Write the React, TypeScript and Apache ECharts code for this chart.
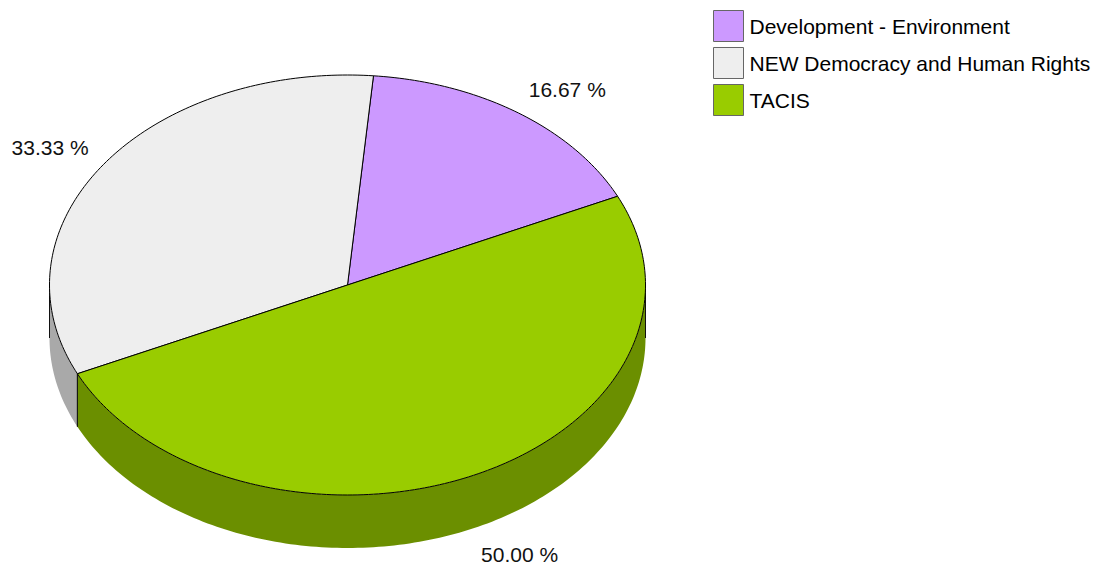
import React, { useEffect, useRef } from 'react';
import * as echarts from 'echarts';

const categories = ['Development - Environment', 'NEW Democracy and Human Rights', 'TACIS'];
const values = [1, 2, 3];
const colors = ['#CC99FF', '#EEEEEE', '#99CC00'];
const sideColors = ['#8F6BB3', '#A9A9A9', '#6B8F00'];
// clockwise drawing order of the slices (indices into categories)
const sliceOrder = [0, 2, 1];

const FONT = '"Liberation Sans", Arial, sans-serif';

export default function App() {
  const ref = useRef<HTMLDivElement>(null);
  useEffect(() => {
    document.body.style.margin = '0';
    const chart = echarts.init(ref.current!, null, { renderer: 'svg' });
    const total = values.reduce((a, b) => a + b, 0);
    const cx = 347.5, cy = 285, rx = 298, ry = 210, depth = 53, startDeg = 5;
    const rad = (d: number) => (d * Math.PI) / 180;
    const pt = (t: number, dy: number) => [cx + rx * Math.sin(rad(t)), cy - ry * Math.cos(rad(t)) + dy];
    const arc = (a: number, b: number, dy: number) => {
      const pts: number[][] = [];
      const n = Math.max(2, Math.ceil(Math.abs(b - a)));
      for (let k = 0; k <= n; k++) pts.push(pt(a + ((b - a) * k) / n, dy));
      return pts;
    };

    const series = categories.map((name, i) => {
      const pos = sliceOrder.indexOf(i);
      const before = sliceOrder.slice(0, pos).reduce((a, j) => a + values[j], 0);
      return {
        type: 'custom',
        name,
        coordinateSystem: 'none',
        silent: true,
        itemStyle: { color: colors[i] },
        data: [[values[i]]],
        renderItem: (params: any, api: any) => {
          const v = api.value(0);
          const t1 = startDeg + (before / total) * 360;
          const t2 = t1 + (v / total) * 360;
          const children: any[] = [];
          const fronts = [[90, 270], [450, 630]];
          fronts.forEach(([fa, fb]) => {
            const a = Math.max(t1, fa), b = Math.min(t2, fb);
            if (b > a) {
              const top = arc(a, b, 0);
              const bottom = arc(a, b, depth).reverse();
              children.push({
                type: 'polygon',
                shape: { points: top.concat(bottom) },
                style: { fill: sideColors[i], stroke: null },
              });
              [a, b].forEach((t) => {
                const p = pt(t, 0);
                children.push({
                  type: 'line',
                  shape: { x1: p[0], y1: p[1], x2: p[0], y2: p[1] + depth },
                  style: { stroke: '#111', lineWidth: 1 },
                });
              });
            }
          });
          children.push({
            type: 'polygon',
            shape: { points: [[cx, cy]].concat(arc(t1, t2, 0)) },
            style: { fill: colors[i], stroke: '#000', lineWidth: 1 },
          });
          const mid = (t1 + t2) / 2;
          const s = Math.sin(rad(mid)), c = Math.cos(rad(mid));
          const lx = cx + (rx + 18) * s;
          const ly = cy - (ry + 29) * c + (c < 0 ? depth : 0);
          children.push({
            type: 'text',
            x: lx,
            y: ly,
            style: {
              text: ((v / total) * 100).toFixed(2) + ' %',
              fill: '#111',
              font: '21px ' + FONT,
              align: s >= 0 ? 'left' : 'right',
              verticalAlign: 'middle',
            },
          });
          return { type: 'group', children };
        },
      };
    });

    chart.setOption({
      animation: false,
      backgroundColor: '#ffffff',
      legend: {
        orient: 'vertical',
        left: 713,
        top: 10,
        padding: 0,
        itemWidth: 30,
        itemHeight: 31,
        itemGap: 5,
        selectedMode: false,
        data: categories.map((name) => ({ name, icon: 'rect' })),
        itemStyle: { borderColor: '#666', borderWidth: 1 },
        textStyle: { fontSize: 21, fontFamily: FONT, color: '#000', padding: [0, 0, 3, 1] },
      },
      series,
    } as any);
    return () => chart.dispose();
  }, []);
  return <div ref={ref} style={{ width: 1098, height: 565 }} />;
}
